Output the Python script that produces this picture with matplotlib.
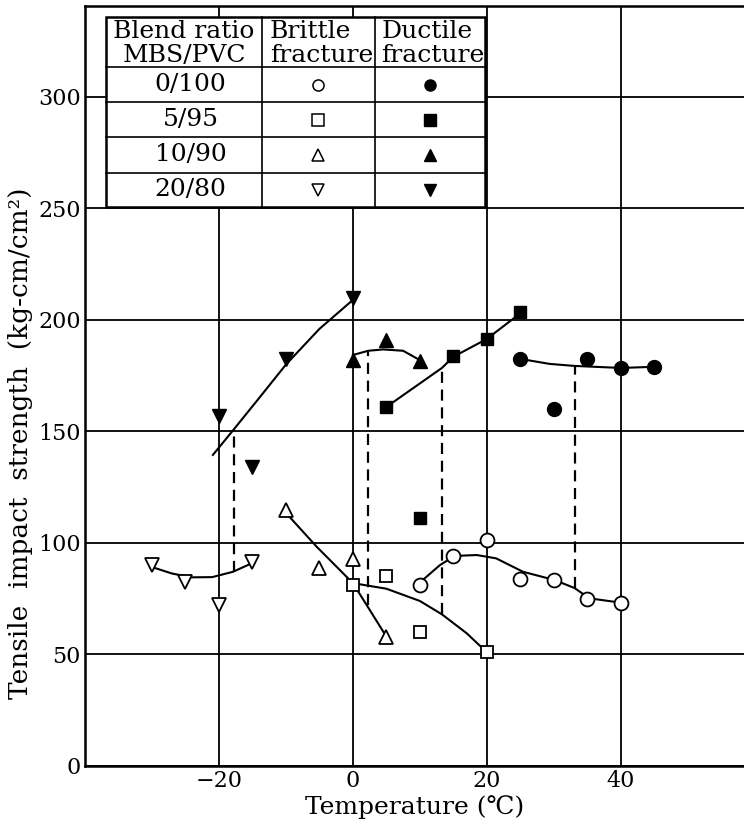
import numpy as np
import matplotlib.pyplot as plt
from matplotlib.patches import Rectangle

plt.rcParams['font.family'] = ['DejaVu Serif']

# axes
x_ticks = [-20, 0, 20, 40]
y_ticks = [0, 50, 100, 150, 200, 250, 300]

# measured points, MBS/PVC 0/100
b0_x = [10, 15, 20, 25, 30, 35, 40]
b0_y = [81, 94, 101.5, 84, 83.4, 75, 73]
d0_x = [25, 30, 35, 40, 45]
d0_y = [182.5, 160, 182.5, 178.5, 179]
# 5/95
b5_x = [0, 5, 10, 20]
b5_y = [81, 85, 60, 51]
d5_x = [5, 10, 15, 20, 25]
d5_y = [161, 111, 184, 191.5, 203.5]
# 10/90
b10_x = [-10, -5, 0, 5]
b10_y = [115, 89, 93, 58]
d10_x = [0, 5, 10]
d10_y = [182, 191, 181.5]
# 20/80
b20_x = [-30, -25, -20, -15]
b20_y = [90, 82.5, 72, 91.5]
d20_x = [-20, -15, -10, 0]
d20_y = [157, 134, 182.5, 210]

# hand-drawn fit curves
c_b0_x = [10, 10.7, 13, 15.2, 18.5, 21.4, 25.4, 30.1, 33.1, 35.3, 40.1]
c_b0_y = [82.6, 84.1, 90.1, 94.2, 94.6, 93.1, 87.1, 83.4, 79.8, 75.2, 73.2]
c_d0_x = [25.1, 29.4, 33.1, 40, 45]
c_d0_y = [182.5, 180.3, 179.4, 178.5, 179]
c_b5_x = [0, 5, 10, 13.3, 17, 20]
c_b5_y = [82, 79.5, 74, 68, 59.5, 51]
c_d5_x = [5, 13.3, 15, 20, 25]
c_d5_y = [161, 178.5, 183.5, 191.5, 203]
c_b10_x = [-10, -5.4, 0, 2.2, 5]
c_b10_y = [113.5, 98.3, 82, 71.5, 58]
c_d10_x = [0, 2.3, 4.5, 7.5, 10]
c_d10_y = [184.3, 186.2, 186.8, 186.2, 182]
c_b20_x = [-30.3, -27, -24, -21, -17.9, -15.1]
c_b20_y = [89.5, 86.3, 84.6, 84.7, 87.1, 90.9]
c_d20_x = [-20.9, -17.9, -14, -10, -5, 0]
c_d20_y = [139.5, 150.5, 165, 180, 196, 209]

# brittle/ductile transition (dashed)
trans_x = [-17.8, 2.2, 13.3, 33.1]
trans_top = [150.5, 186, 178.5, 179.4]
trans_bot = [87, 72, 68, 79.8]

# legend table
blend = ['0/100', '5/95', '10/90', '20/80']
shapes = ['o', 's', '^', 'v']

fig = plt.figure(figsize=(7.44, 8.26), dpi=100)
ax = fig.add_axes([85 / 744, 60 / 826, 659 / 744, 760 / 826])
ax.set_xlim(-40, 58.4)
ax.set_ylim(0, 340.8)
ax.set_xticks(x_ticks)
ax.set_yticks(y_ticks)
ax.tick_params(length=0, labelsize=16, pad=3)
ax.grid(True, color='black', lw=1.3)
ax.set_axisbelow(True)
ax.spines['right'].set_visible(False)
for s in ['left', 'bottom', 'top']:
    ax.spines[s].set_linewidth(1.8)

ax.set_xlabel('Temperature (℃)', fontsize=18, labelpad=2)
ax.set_ylabel('Tensile  impact  strength  (kg-cm/cm²)', fontsize=19)
ax.yaxis.set_label_coords(-0.079, 0.425)

for cx, cy in [(c_b0_x, c_b0_y), (c_d0_x, c_d0_y), (c_b5_x, c_b5_y),
               (c_d5_x, c_d5_y), (c_b10_x, c_b10_y), (c_d10_x, c_d10_y),
               (c_b20_x, c_b20_y), (c_d20_x, c_d20_y)]:
    ax.plot(cx, cy, color='black', lw=1.5, zorder=3)

ax.vlines(trans_x, trans_bot, trans_top, colors='black', lw=1.6,
          linestyles=(0, (5, 3)), zorder=3)

brittle = [(b0_x, b0_y), (b5_x, b5_y), (b10_x, b10_y), (b20_x, b20_y)]
ductile = [(d0_x, d0_y), (d5_x, d5_y), (d10_x, d10_y), (d20_x, d20_y)]
sizes = {'o': 10, 's': 9, '^': 10, 'v': 10}
for m, (bx, by), (dx, dy) in zip(shapes, brittle, ductile):
    ax.plot(bx, by, ls='none', marker=m, ms=sizes[m], mfc='white',
            mec='black', mew=1.3, zorder=4)
    ax.plot(dx, dy, ls='none', marker=m, ms=sizes[m], mfc='black',
            mec='black', mew=1.0, zorder=4)

# table in axes fraction
tx = [0.0319, 0.2686, 0.440, 0.607]
ty = [0.9855, 0.9197, 0.8737, 0.8276, 0.7803, 0.7355]
tr = ax.transAxes
ax.add_patch(Rectangle((tx[0], ty[-1]), tx[-1] - tx[0], ty[0] - ty[-1],
                       transform=tr, facecolor='white', edgecolor='black',
                       lw=1.8, zorder=5))
for yy in ty[1:-1]:
    ax.plot([tx[0], tx[-1]], [yy, yy], transform=tr, color='black', lw=1.2, zorder=6)
for xx in tx[1:-1]:
    ax.plot([xx, xx], [ty[0], ty[-1]], transform=tr, color='black', lw=1.2, zorder=6)

hb1 = (766 - 38) / 760
hb2 = (766 - 62) / 760
ax.text((tx[0] + tx[1]) / 2, hb1, 'Blend ratio', transform=tr, ha='center',
        va='baseline', fontsize=18, zorder=7)
ax.text((tx[0] + tx[1]) / 2, hb2, 'MBS/PVC', transform=tr, ha='center',
        va='baseline', fontsize=18, zorder=7)
ax.text(tx[1] + 0.012, hb1, 'Brittle', transform=tr, ha='left',
        va='baseline', fontsize=18, zorder=7)
ax.text(tx[1] + 0.012, hb2, 'fracture', transform=tr, ha='left',
        va='baseline', fontsize=18, zorder=7)
ax.text(tx[2] + 0.01, hb1, 'Ductile', transform=tr, ha='left',
        va='baseline', fontsize=18, zorder=7)
ax.text(tx[2] + 0.01, hb2, 'fracture', transform=tr, ha='left',
        va='baseline', fontsize=18, zorder=7)

for i, (lab, m) in enumerate(zip(blend, shapes)):
    yc = (ty[i + 1] + ty[i + 2]) / 2
    ax.text((tx[0] + tx[1]) / 2 + 0.01, yc, lab, transform=tr, ha='center',
            va='center', fontsize=18, zorder=7)
    ax.plot((tx[1] + tx[2]) / 2, yc, transform=tr, marker=m, ms=8,
            mfc='white', mec='black', mew=1.1, zorder=7)
    ax.plot((tx[2] + tx[3]) / 2, yc, transform=tr, marker=m, ms=8,
            mfc='black', mec='black', zorder=7)

fig.savefig('out.png', dpi=100)
